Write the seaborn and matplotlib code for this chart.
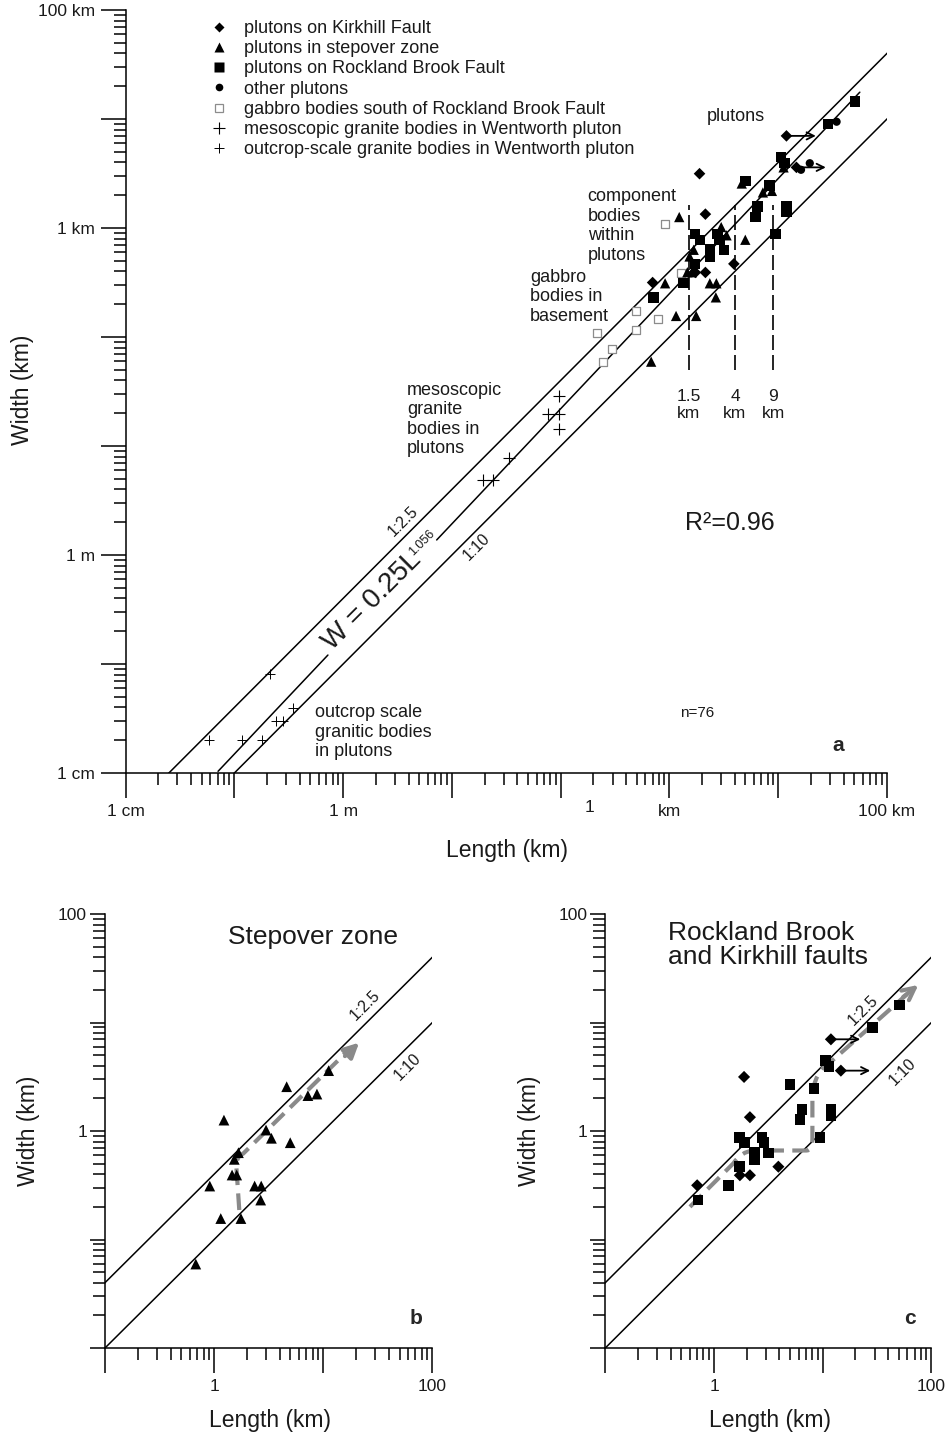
import numpy as np
import matplotlib
matplotlib.use("Agg")
import matplotlib.pyplot as plt
from matplotlib.ticker import FixedLocator, FuncFormatter, NullFormatter
from matplotlib.lines import Line2D
from matplotlib.path import Path
from matplotlib.patches import PathPatch
import seaborn as sns

sns.set_style("ticks")
plt.rcParams["font.family"] = ["Liberation Sans", "DejaVu Sans"]

# ---------------- data: length L and width W in km ----------------
# plutons on Rockland Brook Fault (squares)
rockland_L = [50.7, 28.8, 10.6, 11.4, 5.0, 8.32, 6.46, 6.18, 11.9, 11.9, 9.44,
              1.73, 1.91, 2.77, 2.88, 2.37, 2.37, 3.18, 1.73, 1.35, 0.713]
rockland_W = [14.5, 8.95, 4.49, 3.92, 2.69, 2.45, 1.57, 1.27, 1.57, 1.40, 0.875,
              0.875, 0.780, 0.875, 0.780, 0.637, 0.548, 0.627, 0.469, 0.313, 0.231]

# plutons on Kirkhill Fault (diamonds); first two are minimum lengths
kirkhill_L = [11.9, 14.7, 1.89, 2.14, 1.73, 2.14, 3.91, 0.70]
kirkhill_W = [7.0, 3.6, 3.15, 1.34, 0.391, 0.391, 0.469, 0.316]
kirkhill_open_ended = [True, True, False, False, False, False, False, False]

# plutons in stepover zone (triangles)
stepover_L = [11.2, 4.62, 7.23, 8.75, 1.23, 2.99, 3.35, 4.98, 1.67, 1.53,
              1.46, 1.61, 0.912, 2.35, 2.70, 2.67, 1.15, 1.76, 0.679]
stepover_W = [3.60, 2.56, 2.12, 2.19, 1.26, 1.02, 0.857, 0.780, 0.631, 0.548,
              0.393, 0.393, 0.311, 0.311, 0.311, 0.231, 0.156, 0.156, 0.0594]

# other plutons (circles)
other_L = [34.4, 19.5, 16.2]
other_W = [9.44, 3.93, 3.42]

# gabbro bodies south of Rockland Brook Fault (open squares)
gabbro_L = [0.912, 1.29, 0.491, 0.778, 0.491, 0.214, 0.294, 0.243]
gabbro_W = [1.08, 0.384, 0.174, 0.146, 0.116, 0.108, 0.0776, 0.0590]

# mesoscopic granite bodies in Wentworth pluton (large crosses)
meso_L = [0.0968, 0.0767, 0.0968, 0.0968, 0.0337, 0.0194, 0.0240]
meso_W = [0.0289, 0.0195, 0.0195, 0.0144, 0.00782, 0.00488, 0.00488]

# outcrop-scale granite bodies in Wentworth pluton (small crosses)
outcrop_L = [2.12e-4, 3.44e-4, 2.41e-4, 2.78e-4, 5.85e-5, 1.18e-4, 1.78e-4]
outcrop_W = [8.04e-5, 3.97e-5, 3.00e-5, 3.00e-5, 2.01e-5, 2.01e-5, 2.01e-5]

# reference aspect ratios W:L and the fitted power law W = a * L^b
ratio_lines = {"1:2.5": 1 / 2.5, "1:10": 1 / 10}
fit_a, fit_b = 0.25, 1.056
fit_r2, n_total = 0.96, 76

# characteristic pluton lengths (km) marked by dashed lines
spacing_L = [1.5, 4, 9]
spacing_labels = ["1.5\nkm", "4\nkm", "9\nkm"]

# hand-drawn trend paths (L, W in km) for panels b and c
trend_b = [(1.70, 0.187), (1.60, 0.46), (1.57, 0.58), (1.85, 0.62), (17.0, 5.55)]
trend_b_codes = [Path.MOVETO, Path.LINETO, Path.CURVE3, Path.CURVE3, Path.LINETO]
trend_b_head = ((15.8, 4.9), (21.3, 6.52))

trend_c = [(0.601, 0.200), (1.51, 0.504), (1.78, 0.646), (2.29, 0.661),
           (7.08, 0.661), (8.04, 0.661), (8.04, 0.851), (8.04, 2.0),
           (8.13, 3.55), (12.6, 4.57), (60.0, 18.3)]
trend_c_codes = [Path.MOVETO, Path.LINETO, Path.CURVE3, Path.CURVE3,
                 Path.LINETO, Path.CURVE3, Path.CURVE3, Path.LINETO,
                 Path.CURVE3, Path.CURVE3, Path.LINETO]
trend_c_head = ((55.0, 17.2), (75.9, 22.2))

arrow_span = 10 ** 0.27  # length of open-ended arrows, as a factor in L

# ---------------- figure layout ----------------
FW, FH = 947, 1442
fig = plt.figure(figsize=(FW / 100, FH / 100), dpi=100)


def axes_px(left, top, right, bottom):
    return fig.add_axes([left / FW, 1 - bottom / FH, (right - left) / FW, (bottom - top) / FH])


ax_a = axes_px(125.6, 10, 887, 773)
ax_b = axes_px(105, 914, 432.4, 1348)
ax_c = axes_px(605.3, 914, 931.4, 1348)

LW = 1.1
TICK_FS = 12.5


def setup_log_axes(ax, xdec, ydec, xlabels, ylabels):
    ax.set_xscale("log")
    ax.set_yscale("log")
    ax.set_xlim(10.0 ** xdec[0], 10.0 ** xdec[1])
    ax.set_ylim(10.0 ** ydec[0], 10.0 ** ydec[1])
    for axis, dec, labels in ((ax.xaxis, xdec, xlabels), (ax.yaxis, ydec, ylabels)):
        majors = [10.0 ** k for k in range(dec[0], dec[1] + 1)]
        minors = [m * 10.0 ** k for k in range(dec[0], dec[1]) for m in range(2, 10)]
        axis.set_major_locator(FixedLocator(majors))
        axis.set_minor_locator(FixedLocator(minors))
        axis.set_major_formatter(FuncFormatter(
            lambda v, pos, lab=labels: next((t for k, t in lab.items() if abs(np.log10(v) - k) < 1e-6), "")))
        axis.set_minor_formatter(NullFormatter())
    sns.despine(ax=ax)
    for s in ("left", "bottom"):
        ax.spines[s].set_linewidth(LW)
        ax.spines[s].set_color("k")
    ax.tick_params(which="major", length=18, width=LW, color="k", labelsize=TICK_FS, pad=4,
                   labelcolor="#1a1a1a")
    ax.tick_params(which="minor", length=8.5, width=LW, color="k")


def ratio_line(ax, ratio, lo=-7, hi=4):
    L = np.array([10.0 ** lo, 10.0 ** hi])
    ax.plot(L, ratio * L, color="k", lw=LW, zorder=2)


def points(ax, L, W, marker, s, **kw):
    sns.scatterplot(x=L, y=W, marker=marker, s=s, ax=ax, legend=False, zorder=4, **kw)


def open_arrows(ax, L, W, flags):
    for l, w, f in zip(L, W, flags):
        if f:
            ax.annotate("", xy=(l * arrow_span, w), xytext=(l, w),
                        arrowprops=dict(arrowstyle="->", lw=1.3, color="k",
                                        shrinkA=0, shrinkB=0, mutation_scale=13), zorder=5)


def trend(ax, verts, codes, head, filled):
    patch = PathPatch(Path(verts, codes), fill=False, ec="#8a8a8a", lw=3.0,
                      ls=(0, (4, 2)), capstyle="butt", zorder=3)
    ax.add_patch(patch)
    ax.annotate("", xy=head[1], xytext=head[0],
                arrowprops=dict(arrowstyle="-|>" if filled else "->", lw=3.0, color="#8a8a8a",
                                shrinkA=0, shrinkB=0, mutation_scale=22), zorder=3)


# ---------------- panel a ----------------
ax = ax_a
setup_log_axes(ax, (-5, 2), (-5, 2),
               {-5: "1 cm", -3: "1 m", 0: "km", 2: "100 km"},
               {-5: "1 cm", -3: "1 m", 0: "1 km", 2: "100 km"})
ax.text(0.185, -0.0355, "1", transform=ax.get_xaxis_transform(), ha="center", va="top",
        fontsize=TICK_FS, color="#1a1a1a")

for r in ratio_lines.values():
    ratio_line(ax, r)

# fitted power law, interrupted where its equation is written
for seg in ((-4.15, -3.14), (-2.14, 1.75)):
    Lf = np.logspace(seg[0], seg[1], 50)
    ax.plot(Lf, fit_a * Lf ** fit_b, color="k", lw=LW, zorder=2)

for x, lab in zip(spacing_L, spacing_labels):
    ax.plot([x, x], [0.05, 1.63], color="k", lw=1.2, ls=(0, (9, 3)), zorder=2)
    ax.text(x, 0.033, lab, ha="center", va="top", fontsize=12.5, linespacing=1.1, color="#1a1a1a")

points(ax, gabbro_L, gabbro_W, "s", 28, facecolor="white", edgecolor="#8c8c8c", linewidth=0.9)
points(ax, meso_L, meso_W, "+", 80, color="k", linewidth=0.8)
points(ax, outcrop_L, outcrop_W, "+", 45, color="k", linewidth=0.7)
points(ax, stepover_L, stepover_W, "^", 55, color="k", edgecolor="none")
points(ax, rockland_L, rockland_W, "s", 55, color="k", edgecolor="none")
points(ax, kirkhill_L, kirkhill_W, "D", 35, color="k", edgecolor="none")
points(ax, other_L, other_W, "o", 35, color="k", edgecolor="none")
open_arrows(ax, kirkhill_L, kirkhill_W, kirkhill_open_ended)

txt = dict(fontsize=13, color="#1a1a1a", linespacing=1.18)
ax.text(0.7636, 0.8598, "plutons", ha="left", va="center", transform=ax.transAxes, **txt)
ax.text(0.6069, 0.7169, "component\nbodies\nwithin\nplutons", ha="left", va="center",
        transform=ax.transAxes, **txt)
ax.text(0.5311, 0.6239, "gabbro\nbodies in\nbasement", ha="left", va="center",
        transform=ax.transAxes, **txt)
ax.text(0.3696, 0.4633, "mesoscopic\ngranite\nbodies in\nplutons", ha="left", va="center",
        transform=ax.transAxes, **txt)
ax.text(0.2488, 0.0537, "outcrop scale\ngranitic bodies\nin plutons", ha="left", va="center",
        transform=ax.transAxes, **txt)
ax.text(0.7937, 0.3277, f"R²={fit_r2:.2f}", ha="center", va="center", transform=ax.transAxes,
        fontsize=18, color="#1a1a1a")
ax.text(0.7505, 0.0786, f"n={n_total}", ha="center", va="center", transform=ax.transAxes,
        fontsize=11, color="#1a1a1a")
ax.text(0.9357, 0.0354, "a", ha="center", va="center", transform=ax.transAxes,
        fontsize=15, fontweight="bold")

ax.text(3.56e-3, 2.02e-3, "1:2.5", rotation=45, ha="center", va="center", fontsize=11.5,
        rotation_mode="anchor", color="#1a1a1a")
ax.text(1.686e-2, 1.19e-3, "1:10", rotation=45, ha="center", va="center", fontsize=11.5,
        rotation_mode="anchor", color="#1a1a1a")
ax.text(1.84e-3, 3.78e-4, f"W = {fit_a:g}L", rotation=45, ha="center", va="center",
        fontsize=20, rotation_mode="anchor", color="#1a1a1a")
ax.text(5.3e-3, 1.29e-3, f"{fit_b:.3f}", rotation=45, ha="center", va="center",
        fontsize=9, rotation_mode="anchor", color="#1a1a1a")

ax.set_xlabel("Length (km)", fontsize=16.5, color="#1a1a1a")
ax.set_ylabel("Width (km)", fontsize=16.5, color="#1a1a1a")
ax.xaxis.set_label_coords(0.501, -0.102)
ax.yaxis.set_label_coords(-0.1355, 0.502)
ax.xaxis.label.set_va("center")
ax.yaxis.label.set_va("center")

handles = [
    Line2D([], [], ls="none", marker="D", ms=5.5, color="k", mec="none"),
    Line2D([], [], ls="none", marker="^", ms=7, color="k", mec="none"),
    Line2D([], [], ls="none", marker="s", ms=6.5, color="k", mec="none"),
    Line2D([], [], ls="none", marker="o", ms=5.5, color="k", mec="none"),
    Line2D([], [], ls="none", marker="s", ms=5.5, mfc="white", mec="#8c8c8c", mew=0.9),
    Line2D([], [], ls="none", marker="+", ms=9, color="k", mew=0.8),
    Line2D([], [], ls="none", marker="+", ms=6.5, color="k", mew=0.7),
]
labels = [
    "plutons on Kirkhill Fault",
    "plutons in stepover zone",
    "plutons on Rockland Brook Fault",
    "other plutons",
    "gabbro bodies south of Rockland Brook Fault",
    "mesoscopic granite bodies in Wentworth pluton",
    "outcrop-scale granite bodies in Wentworth pluton",
]
leg = ax.legend(handles, labels, loc="upper left", bbox_to_anchor=(0.111, 0.987),
                frameon=False, fontsize=13, labelspacing=0.18, handlelength=1.0,
                handletextpad=0.9, borderaxespad=0, borderpad=0)
for t in leg.get_texts():
    t.set_color("#1a1a1a")

# ---------------- panels b and c ----------------
for ax in (ax_b, ax_c):
    setup_log_axes(ax, (-1, 2), (-2, 2), {0: "1", 2: "100"}, {0: "1", 2: "100"})
    ax.tick_params(axis="y", which="major", length=11, pad=2)
    for r in ratio_lines.values():
        ratio_line(ax, r)
    ax.set_xlabel("Length (km)", fontsize=16.5, color="#1a1a1a")
    ax.set_ylabel("Width (km)", fontsize=16.5, color="#1a1a1a")
    ax.xaxis.label.set_va("center")
    ax.yaxis.label.set_va("center")

ax_b.xaxis.set_label_coords(0.504, -0.166)
ax_b.yaxis.set_label_coords(-0.235, 0.5)
ax_c.xaxis.set_label_coords(0.506, -0.166)
ax_c.yaxis.set_label_coords(-0.231, 0.5)

trend(ax_b, trend_b, trend_b_codes, trend_b_head, True)
points(ax_b, stepover_L, stepover_W, "^", 60, color="k", edgecolor="none")
ax_b.text(24.0, 14.5, "1:2.5", rotation=45, ha="center", va="center", fontsize=11.5,
          rotation_mode="anchor", color="#1a1a1a")
ax_b.text(59.7, 3.89, "1:10", rotation=45, ha="center", va="center", fontsize=11.5,
          rotation_mode="anchor", color="#1a1a1a")
ax_b.text(0.635, 0.948, "Stepover zone", ha="center", va="center", transform=ax_b.transAxes,
          fontsize=19, color="#1a1a1a")
ax_b.text(0.950, 0.068, "b", ha="center", va="center", transform=ax_b.transAxes,
          fontsize=15, fontweight="bold")

trend(ax_c, trend_c, trend_c_codes, trend_c_head, False)
points(ax_c, rockland_L, rockland_W, "s", 60, color="k", edgecolor="none")
points(ax_c, kirkhill_L, kirkhill_W, "D", 38, color="k", edgecolor="none")
open_arrows(ax_c, kirkhill_L, kirkhill_W, kirkhill_open_ended)
ax_c.text(23.5, 13.0, "1:2.5", rotation=45, ha="center", va="center", fontsize=11.5,
          rotation_mode="anchor", color="#1a1a1a")
ax_c.text(54.8, 3.50, "1:10", rotation=45, ha="center", va="center", fontsize=11.5,
          rotation_mode="anchor", color="#1a1a1a")
ax_c.text(0.193, 0.9286, "Rockland Brook\nand Kirkhill faults", ha="left", va="center",
          transform=ax_c.transAxes, fontsize=19, linespacing=1.05, color="#1a1a1a")
ax_c.text(0.934, 0.068, "c", ha="center", va="center", transform=ax_c.transAxes,
          fontsize=15, fontweight="bold")

fig.savefig("out.png", dpi=100)
